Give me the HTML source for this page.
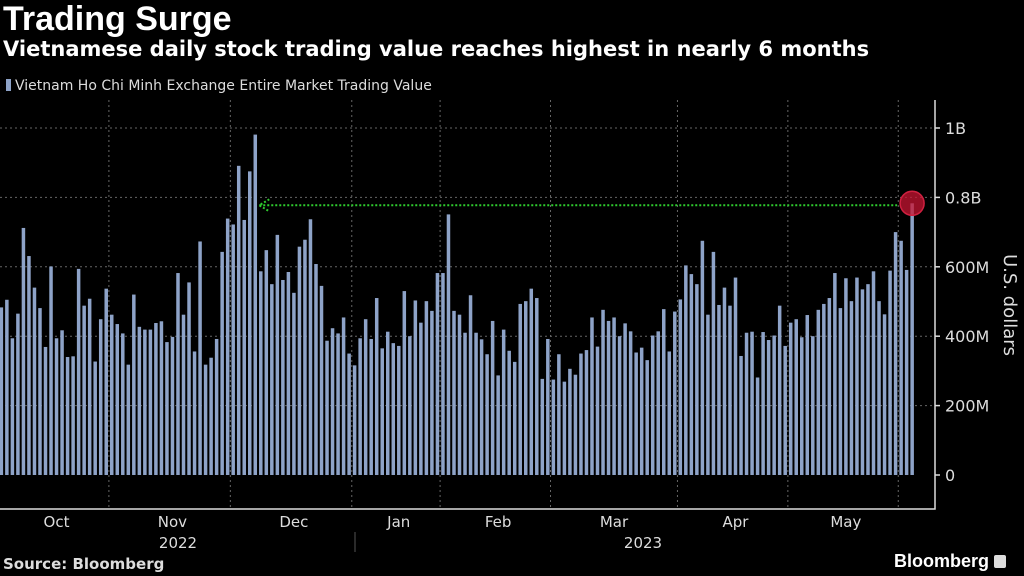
<!DOCTYPE html>
<html><head><meta charset="utf-8">
<style>
body{margin:0;background:#000;width:1024px;height:576px;overflow:hidden;font-family:"Liberation Sans",sans-serif;color:#fff}
</style></head>
<body>
<div style="position:absolute;left:3px;top:0px;font-size:34px;font-weight:bold">Trading Surge</div>
<div style="position:absolute;left:3px;top:37px;font-size:21px;font-weight:bold;font-family:'DejaVu Sans',sans-serif;white-space:nowrap">Vietnamese daily stock trading value reaches highest in nearly 6 months</div>
<div style="position:absolute;left:6px;top:78px;font-size:14px;color:#ddd;font-family:'DejaVu Sans',sans-serif;white-space:nowrap"><span style="display:inline-block;width:5px;height:12px;background:#8ea3c8;margin-right:4px;vertical-align:-1px"></span>Vietnam Ho Chi Minh Exchange Entire Market Trading Value</div>
<svg id="chart" width="1024" height="576" style="position:absolute;left:0;top:0"></svg>
<div style="position:absolute;left:3px;top:555px;font-size:15px;font-weight:bold;color:#ddd;font-family:'DejaVu Sans',sans-serif">Source: Bloomberg</div>
<div style="position:absolute;left:894px;top:551px;font-size:18px;font-weight:bold">Bloomberg <span style="display:inline-block;width:12px;height:13px;background:#ddd;border-radius:2px;vertical-align:-1px"></span></div>
<script>
const values=[0.483,0.505,0.394,0.465,0.712,0.631,0.540,0.481,0.369,0.601,0.394,0.417,0.340,0.342,0.594,0.488,0.508,0.327,0.449,0.537,0.462,0.435,0.408,0.318,0.520,0.427,0.419,0.419,0.438,0.443,0.383,0.398,0.582,0.462,0.555,0.356,0.673,0.318,0.338,0.392,0.643,0.739,0.722,0.891,
0.735,0.875,0.981,0.587,0.648,0.550,0.692,0.562,0.585,0.525,0.658,0.678,0.737,0.608,0.545,0.387,0.423,0.408,0.454,0.350,0.316,0.394,0.449,0.392,0.510,0.365,0.413,0.380,0.372,0.530,0.400,0.503,0.439,0.501,0.473,0.582,0.582,0.751,0.473,0.462,0.410,0.518,
0.410,0.391,0.348,0.444,0.287,0.419,0.358,0.326,0.493,0.501,0.537,0.510,0.277,0.392,0.275,0.348,0.269,0.306,0.289,0.350,0.360,0.454,0.370,0.476,0.444,0.454,0.400,0.437,0.414,0.353,0.367,0.331,0.402,0.414,0.478,0.356,0.471,0.506,0.604,0.579,0.550,
0.675,0.462,0.643,0.490,0.540,0.488,0.569,0.343,0.410,0.413,0.281,0.412,0.389,0.402,0.488,0.372,0.439,0.449,0.397,0.461,0.400,0.476,0.493,0.510,0.582,0.481,0.567,0.501,0.569,0.535,0.550,0.587,0.501,0.463,0.589,0.700,0.675,0.591,0.783];
const yTicks=[0,0.2,0.4,0.6,0.8,1.0];
const yTickLabels=["0","200M","400M","600M","0.8B","1B"];
const months=["Oct","Nov","Dec","Jan","Feb","Mar","Apr","May"];
const monthLabelIdx=[10,31,53,72,90,111,133,153];
const gridIdx=[20,42,64,80,100,123,143,163];
const years=["2022","2023"];
const svg=document.getElementById('chart');
const NS='http://www.w3.org/2000/svg';
const y0=475,pxPerB=347,x0=1.3,step=5.52;
const y=v=>y0-v*pxPerB;
const x=i=>x0+i*step;
function mk(t,a){const e=document.createElementNS(NS,t);for(const k in a)e.setAttribute(k,a[k]);svg.appendChild(e);return e;}
yTicks.forEach((t,i)=>{
 if(t>0){const g=mk('line',{x1:0,x2:935,y1:y(t),y2:y(t),stroke:'#666','stroke-dasharray':'2,3','stroke-width':1});
 }
 const tk=mk('line',{x1:935,x2:940,y1:y(t),y2:y(t),stroke:'#ddd','stroke-width':1.5});
 
 const l=mk('text',{x:945,y:y(t)+6,fill:'#ddd','font-size':16,'font-family':'DejaVu Sans'});
 l.textContent=yTickLabels[i];
 
});
gridIdx.forEach(i=>{const gx=x(i)-2.8;const g=mk('line',{x1:gx,x2:gx,y1:100,y2:509,stroke:'#666','stroke-dasharray':'2,3','stroke-width':1});
 });
values.forEach((v,i)=>{const b=mk('rect',{x:x(i)-1.7,y:y(v),width:3.5,height:v*pxPerB,fill:'#8ea3c8'});
 });
const ax=mk('path',{d:'M935,100 V509 H0',stroke:'#ddd','stroke-width':1.5,fill:'none'});

months.forEach((m,i)=>{const t=mk('text',{x:x(monthLabelIdx[i]),y:527,fill:'#ddd','font-size':15,'text-anchor':'middle','font-family':'DejaVu Sans'});
 t.textContent=m;});
const ysep=mk('line',{x1:355,x2:355,y1:532,y2:552,stroke:'#555','stroke-width':1});

[[178,years[0]],[643,years[1]]].forEach(([px,t])=>{const e=mk('text',{x:px,y:548,fill:'#ddd','font-size':15,'text-anchor':'middle','font-family':'DejaVu Sans'});
 e.textContent=t;});
const yt=mk('text',{x:1004,y:305,fill:'#ddd','font-size':18,'text-anchor':'middle','font-family':'DejaVu Sans',transform:'rotate(90 1004 305)'});
yt.textContent='U.S. dollars';
const last=values.length-1;
const ay=y(values[last]);
const arr=mk('line',{x1:x(48)-7,x2:x(last)-15,y1:ay+2,y2:ay+2,stroke:'#2ecc2e','stroke-width':2,'stroke-dasharray':'2,2'});

const ah=mk('path',{d:`M${x(48)+3},${ay-4} L${x(48)-7},${ay+2} L${x(48)+3},${ay+8}`,stroke:'#2ecc2e','stroke-width':2,fill:'none','stroke-dasharray':'2,2'});

const c=mk('circle',{cx:x(last),cy:ay,r:12,fill:'rgba(200,20,50,0.75)',stroke:'#d02040','stroke-width':1.5});

</script>
</body></html>
